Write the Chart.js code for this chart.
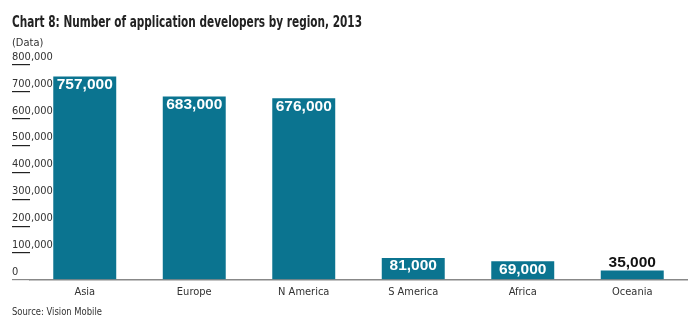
<!DOCTYPE html>
<html>
<head>
<meta charset="utf-8">
<script src="https://cdn.jsdelivr.net/npm/chart.js@4"></script>
<style>
  html, body { margin: 0; padding: 0; background: #fff; }
  #wrap { width: 700px; height: 328px; }
</style>
</head>
<body>
<div id="wrap"><canvas id="devChart" width="700" height="328"></canvas></div>
<script>
const regions = ['Asia', 'Europe', 'N America', 'S America', 'Africa', 'Oceania'];
const developers = [757000, 683000, 676000, 81000, 69000, 35000];
const yTicks = [0, 100000, 200000, 300000, 400000, 500000, 600000, 700000, 800000];

const titleText = 'Chart 8: Number of application developers by region, 2013';
const unitText = '(Data)';
const sourceText = 'Source: Vision Mobile';

const barColor = '#0b7490';
const textFont = "'DejaVu Sans Condensed', 'DejaVu Sans', sans-serif";

function fmt(v) {
  return v.toLocaleString('en-US');
}

// value labels: white inside the tall bars, black above the short one
const valueLabels = {
  id: 'valueLabels',
  afterDatasetsDraw(chart) {
    const ctx = chart.ctx;
    const meta = chart.getDatasetMeta(0);
    ctx.save();
    ctx.font = "bold 15.5px 'Liberation Sans', Arial, sans-serif";
    ctx.textAlign = 'center';
    ctx.textBaseline = 'middle';
    meta.data.forEach((bar, i) => {
      const v = developers[i];
      if (v < 50000) {
        ctx.fillStyle = '#111';
        ctx.fillText(fmt(v), bar.x, bar.y - 8);
      } else {
        ctx.fillStyle = '#fff';
        ctx.fillText(fmt(v), bar.x, bar.y + 8);
      }
    });
    ctx.restore();
  }
};

// heading, unit note and source line, squeezed a little like the house font
const headings = {
  id: 'headings',
  afterDraw(chart) {
    const ctx = chart.ctx;
    ctx.save();
    ctx.textAlign = 'left';
    ctx.textBaseline = 'alphabetic';
    ctx.fillStyle = '#222';
    ctx.font = 'bold 15px ' + textFont;
    ctx.fillText(titleText, 12, 27, 350);
    ctx.fillStyle = '#333';
    ctx.font = '11px ' + textFont;
    ctx.fillText(unitText, 12, 46, 34);
    ctx.fillText(sourceText, 12, 315, 90);
    ctx.restore();
  }
};

new Chart(document.getElementById('devChart'), {
  type: 'bar',
  data: {
    labels: regions,
    datasets: [{
      data: developers,
      backgroundColor: barColor,
      categoryPercentage: 1,
      barPercentage: 0.575
    }]
  },
  options: {
    responsive: false,
    animation: false,
    layout: { padding: { left: 12, right: 13, top: 65, bottom: 23 } },
    plugins: {
      legend: { display: false },
      tooltip: { enabled: false },
      title: { display: false }
    },
    scales: {
      x: {
        grid: { display: false, drawTicks: false },
        border: { display: true, color: '#888', width: 1.5 },
        ticks: {
          color: '#333',
          font: { family: textFont, size: 11 },
          padding: 6
        }
      },
      y: {
        min: 0,
        max: 800000,
        afterBuildTicks(scale) {
          scale.ticks = yTicks.map(v => ({ value: v }));
        },
        afterFit(scale) {
          scale.width = 18;
        },
        grid: {
          drawOnChartArea: false,
          tickLength: 18,
          tickColor: c => (c.tick && c.tick.value === 0 ? '#888' : '#222'),
          lineWidth: 1.2
        },
        border: { display: false },
        ticks: {
          mirror: true,
          labelOffset: -8,
          padding: -18,
          color: '#333',
          font: { family: textFont, size: 11 },
          callback: v => fmt(v)
        }
      }
    }
  },
  plugins: [valueLabels, headings]
});
</script>
</body>
</html>
